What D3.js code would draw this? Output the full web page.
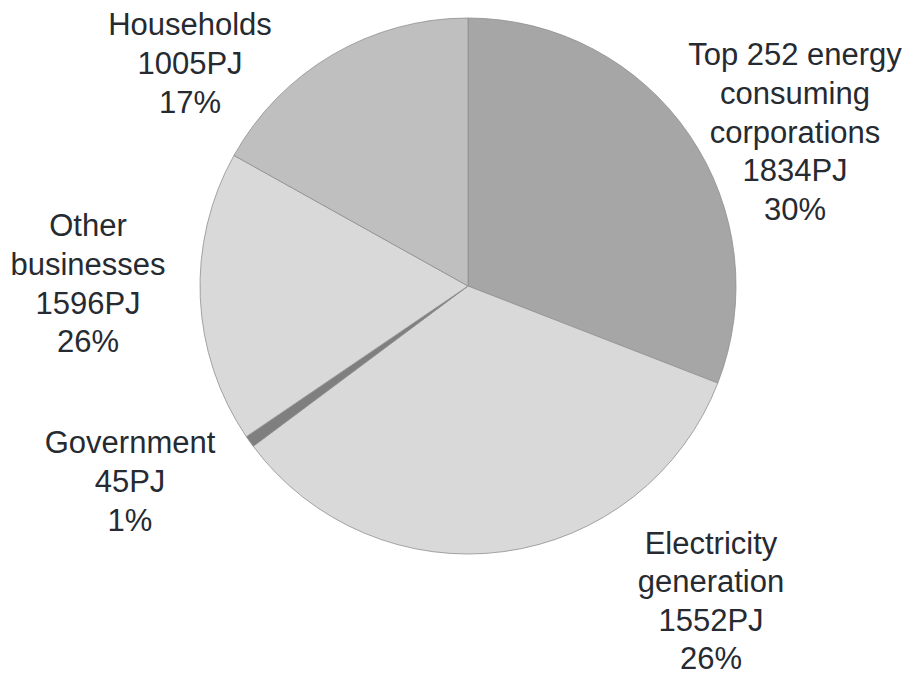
<!DOCTYPE html>
<html>
<head>
<meta charset="utf-8">
<script src="https://cdn.jsdelivr.net/npm/d3@7"></script>
<style>
  body { margin: 0; background: #fff; }
  svg { display: block; }
</style>
</head>
<body>
<svg id="chart" width="912" height="675"></svg>
<script>
// data, clockwise from 12 o'clock
const sectors = ["Top 252 energy consuming corporations", "Electricity generation", "Government", "Other businesses", "Households"];
const energyPJ = [1834, 1552, 45, 1596, 1005];
const shares = ["30%", "26%", "1%", "26%", "17%"];
// slice sizes as actually drawn in the original (%), they differ from the printed labels
const drawnShare = [30.9, 33.9, 0.7, 17.6, 16.9];
// label line breaks as drawn in the original
const labelLines = [
  ["Top 252 energy", "consuming", "corporations"],
  ["Electricity", "generation"],
  ["Government"],
  ["Other", "businesses"],
  ["Households"]
];
const fills = ["#a6a6a6", "#d9d9d9", "#7f7f7f", "#d9d9d9", "#bfbfbf"];

// layout
const W = 912, H = 675;
const cx = 468, cy = 286, R = 268;
const fontSize = 31, lineH = 38.8;
// first-baseline anchor for each label, relative to the pie centre
const labelAnchor = [
  [327, -221], [243, 268], [-338, 167], [-380, -50], [-278, -251]
];

const svg = d3.select("#chart");
const g = svg.append("g").attr("transform", `translate(${cx},${cy})`);

const pie = d3.pie().sort(null).value(d => d)(drawnShare);
const arc = d3.arc().innerRadius(0).outerRadius(R);

g.selectAll("path")
  .data(pie)
  .enter()
  .append("path")
  .attr("d", arc)
  .attr("fill", (d, i) => fills[i])
  .attr("stroke", "#8f8f8f")
  .attr("stroke-width", 0.8);

const labels = g.selectAll("text.lbl")
  .data(pie)
  .enter()
  .append("text")
  .attr("class", "lbl")
  .attr("text-anchor", "middle")
  .attr("font-family", "'Liberation Sans', Arial, sans-serif")
  .attr("font-size", fontSize)
  .attr("fill", "#262a31")
  .attr("x", (d, i) => labelAnchor[i][0])
  .attr("y", (d, i) => labelAnchor[i][1]);

labels.each(function (d, i) {
  const lines = labelLines[i].concat([energyPJ[i] + "PJ", shares[i]]);
  d3.select(this).selectAll("tspan")
    .data(lines)
    .enter()
    .append("tspan")
    .attr("x", labelAnchor[i][0])
    .attr("dy", (t, j) => j === 0 ? 0 : (i === 1 ? lineH - 0.4 : lineH))
    .text(t => t);
});
</script>
</body>
</html>
